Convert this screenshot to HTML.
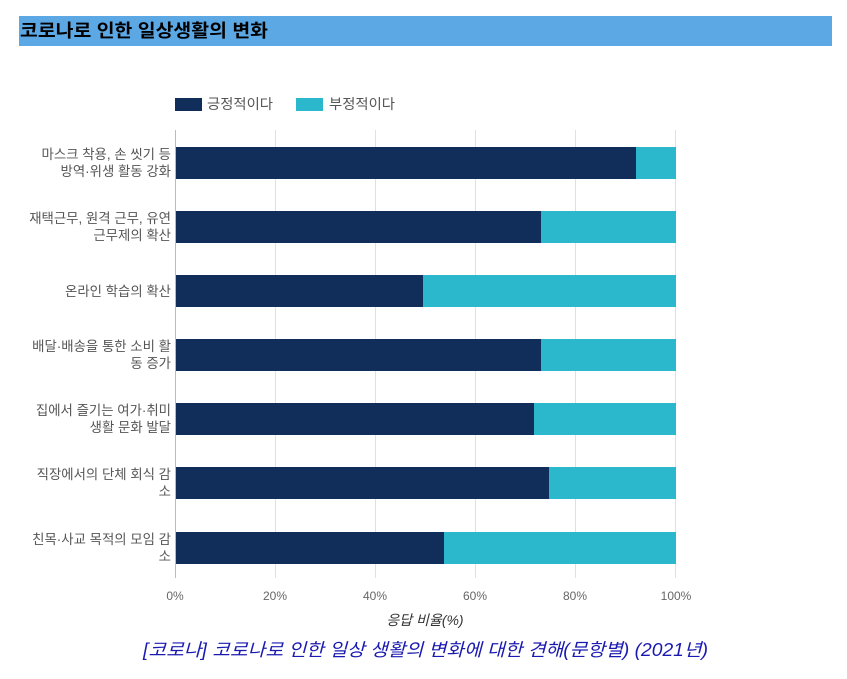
<!DOCTYPE html>
<html><head><meta charset="utf-8"><style>
body{margin:0;background:#fff;width:847px;height:674px;overflow:hidden;font-family:"Liberation Sans","Noto Sans CJK KR",sans-serif}
</style></head><body>
<svg width="847" height="674" xmlns="http://www.w3.org/2000/svg" font-family="Liberation Sans, Noto Sans CJK KR, sans-serif">
<rect x="19" y="16" width="813" height="30" fill="#5ba8e5"/>
<text x="20" y="37" font-size="18" font-weight="bold" fill="#000" textLength="248" lengthAdjust="spacingAndGlyphs">코로나로 인한 일상생활의 변화</text>
<rect x="175" y="98" width="27" height="13" fill="#112d5a"/>
<text x="207" y="109" font-size="14" fill="#555" textLength="66" lengthAdjust="spacingAndGlyphs">긍정적이다</text>
<rect x="296" y="98" width="27" height="13" fill="#2bb7cc"/>
<text x="329" y="109" font-size="14" fill="#555" textLength="66" lengthAdjust="spacingAndGlyphs">부정적이다</text>
<g stroke="#e0e0e0" stroke-width="1">
<line x1="275.5" y1="130" x2="275.5" y2="578"/><line x1="375.5" y1="130" x2="375.5" y2="578"/>
<line x1="475.5" y1="130" x2="475.5" y2="578"/><line x1="575.5" y1="130" x2="575.5" y2="578"/>
<line x1="675.5" y1="130" x2="675.5" y2="578"/></g>
<line x1="175.5" y1="130" x2="175.5" y2="578" stroke="#bbb"/>
<g>
<rect x="176" y="147" width="460" height="32" fill="#112d5a"/><rect x="636" y="147" width="40" height="32" fill="#2bb7cc"/>
<rect x="176" y="211" width="365" height="32" fill="#112d5a"/><rect x="541" y="211" width="135" height="32" fill="#2bb7cc"/>
<rect x="176" y="275" width="247" height="32" fill="#112d5a"/><rect x="423" y="275" width="253" height="32" fill="#2bb7cc"/>
<rect x="176" y="339" width="365" height="32" fill="#112d5a"/><rect x="541" y="339" width="135" height="32" fill="#2bb7cc"/>
<rect x="176" y="403" width="358" height="32" fill="#112d5a"/><rect x="534" y="403" width="142" height="32" fill="#2bb7cc"/>
<rect x="176" y="467" width="373" height="32" fill="#112d5a"/><rect x="549" y="467" width="127" height="32" fill="#2bb7cc"/>
<rect x="176" y="532" width="268" height="32" fill="#112d5a"/><rect x="444" y="532" width="232" height="32" fill="#2bb7cc"/>
</g>
<g font-size="13.4" fill="#555" text-anchor="end">
<text x="171" y="159">마스크 착용, 손 씻기 등</text><text x="171" y="176">방역·위생 활동 강화</text>
<text x="171" y="223">재택근무, 원격 근무, 유연</text><text x="171" y="240">근무제의 확산</text>
<text x="171" y="296">온라인 학습의 확산</text>
<text x="171" y="351">배달·배송을 통한 소비 활</text><text x="171" y="368">동 증가</text>
<text x="171" y="415">집에서 즐기는 여가·취미</text><text x="171" y="432">생활 문화 발달</text>
<text x="171" y="479">직장에서의 단체 회식 감</text><text x="171" y="496">소</text>
<text x="171" y="544">친목·사교 목적의 모임 감</text><text x="171" y="561">소</text>
</g>
<g font-size="12" fill="#666" text-anchor="middle">
<text x="175" y="600">0%</text><text x="275" y="600">20%</text><text x="375" y="600">40%</text>
<text x="475" y="600">60%</text><text x="575" y="600">80%</text><text x="676" y="600">100%</text>
</g>
<text x="425" y="625" font-size="14" font-style="italic" fill="#333" text-anchor="middle">응답 비율(%)</text>
<text x="143" y="656" font-size="18" font-style="italic" fill="#1a1ab0" textLength="565" lengthAdjust="spacingAndGlyphs">[코로나] 코로나로 인한 일상 생활의 변화에 대한 견해(문항별) (2021년)</text>
</svg>
</body></html>
